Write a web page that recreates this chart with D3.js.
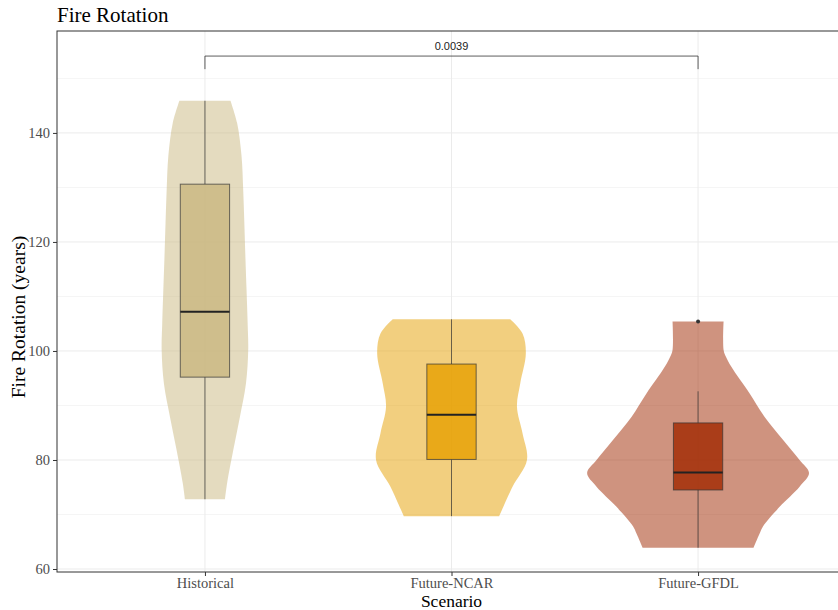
<!DOCTYPE html>
<html>
<head>
<meta charset="utf-8">
<script src="https://cdn.jsdelivr.net/npm/d3@7"></script>
<style>
  body { margin: 0; background: #fff; }
  svg { display: block; }
  text { font-family: "Liberation Serif", "Times New Roman", serif; }
</style>
</head>
<body>
<div id="chart"></div>
<script>
// scenarios on the x axis
const scenarios = ["Historical", "Future-NCAR", "Future-GFDL"];
const baseColors = ["#c9b77f", "#e69f00", "#a02800"];

// box plot stats
const lowerWhisker = [72.8, 69.7, 63.9];
const q1 = [95.2, 80.1, 74.5];
const median = [107.2, 88.3, 77.7];
const q3 = [130.6, 97.6, 86.8];
const upperWhisker = [145.9, 105.8, 92.6];
const outliers = [[], [], [105.4]];

// violin outline: [value, relative half width]
const histViolin = [[145.9,0.23],[141.8,0.29],[135.7,0.33],[129.5,0.345],[123.5,0.355],[117,0.365],[111.2,0.375],[105,0.385],[100.2,0.39],[94.1,0.37],[87.9,0.315],[81.8,0.255],[75.8,0.2],[72.8,0.18]];
const ncarViolin = [[105.8,0.53],[103.2,0.64],[99.6,0.67],[94.1,0.62],[89.8,0.59],[84.9,0.64],[80,0.68],[75.1,0.55],[69.7,0.43]];
const gfdlViolin = [[105.4,0.23],[100.2,0.23],[99,0.25],[97.1,0.3],[92.2,0.465],[87.9,0.6],[83.7,0.765],[80,0.915],[77.6,1],[75.1,0.915],[71.4,0.735],[67.8,0.585],[66.5,0.555],[63.9,0.5]];
const violins = [histViolin, ncarViolin, gfdlViolin];

const yTicks = [60, 80, 100, 120, 140];
const yMinor = [70, 90, 110, 130, 150];

// comparison bracket
const bracketFrom = "Historical", bracketTo = "Future-GFDL";
const bracketY = 154.1, bracketTipY = 151.7;
const bracketLabel = "0.0039";

const W = 838, H = 610;
const margin = { top: 31, left: 57, bottom: 38 };
const panelW = 789; // panel runs past the right edge of the page
const innerH = H - margin.top - margin.bottom;

const svg = d3.select("#chart").append("svg")
  .attr("width", W).attr("height", H);

const x = d3.scalePoint().domain(scenarios).range([0, panelW]).padding(0.6);
const step = x.step();
const y = d3.scaleLinear().domain([59.45, 158.7]).range([innerH, 0]);
const wScale = d3.scaleLinear().domain([0, 1]).range([0, 0.45 * step]);

const g = svg.append("g").attr("transform", `translate(${margin.left},${margin.top})`);

// grid
g.selectAll(".minor").data(yMinor).enter().append("line")
  .attr("x1", 0).attr("x2", panelW)
  .attr("y1", d => y(d)).attr("y2", d => y(d))
  .attr("stroke", "#f2f2f2").attr("stroke-width", 0.8);
g.selectAll(".major").data(yTicks).enter().append("line")
  .attr("x1", 0).attr("x2", panelW)
  .attr("y1", d => y(d)).attr("y2", d => y(d))
  .attr("stroke", "#ebebeb").attr("stroke-width", 1);
g.selectAll(".vgrid").data(scenarios).enter().append("line")
  .attr("x1", d => x(d)).attr("x2", d => x(d))
  .attr("y1", 0).attr("y2", innerH)
  .attr("stroke", "#ebebeb").attr("stroke-width", 1);

// violins
const area = d3.area()
  .curve(d3.curveCatmullRom.alpha(0.5))
  .y(d => y(d[0]));

scenarios.forEach((s, i) => {
  const cx = x(s);
  g.append("path")
    .datum(violins[i])
    .attr("d", area.x0(d => cx - wScale(d[1])).x1(d => cx + wScale(d[1])))
    .attr("fill", baseColors[i])
    .attr("fill-opacity", 0.5);
});

// boxes
const boxHalf = 0.1 * step;
scenarios.forEach((s, i) => {
  const cx = x(s);
  const bg = g.append("g");
  bg.append("line")
    .attr("x1", cx).attr("x2", cx)
    .attr("y1", y(upperWhisker[i])).attr("y2", y(q3[i]))
    .attr("stroke", "#333").attr("stroke-opacity", 0.7).attr("stroke-width", 1);
  bg.append("line")
    .attr("x1", cx).attr("x2", cx)
    .attr("y1", y(q1[i])).attr("y2", y(lowerWhisker[i]))
    .attr("stroke", "#333").attr("stroke-opacity", 0.7).attr("stroke-width", 1);
  bg.append("rect")
    .attr("x", cx - boxHalf).attr("width", 2 * boxHalf)
    .attr("y", y(q3[i])).attr("height", y(q1[i]) - y(q3[i]))
    .attr("fill", baseColors[i]).attr("fill-opacity", 0.8)
    .attr("stroke", "#333").attr("stroke-opacity", 0.7).attr("stroke-width", 1);
  bg.append("line")
    .attr("x1", cx - boxHalf).attr("x2", cx + boxHalf)
    .attr("y1", y(median[i])).attr("y2", y(median[i]))
    .attr("stroke", "#222").attr("stroke-width", 2);
  bg.selectAll("circle").data(outliers[i]).enter().append("circle")
    .attr("cx", cx).attr("cy", d => y(d)).attr("r", 2)
    .attr("fill", "#333");
});

// significance bracket
const bx1 = x(bracketFrom), bx2 = x(bracketTo);
g.append("path")
  .attr("d", `M${bx1},${y(bracketTipY)}V${y(bracketY)}H${bx2}V${y(bracketTipY)}`)
  .attr("fill", "none").attr("stroke", "#333").attr("stroke-width", 0.8);
g.append("text")
  .attr("x", (bx1 + bx2) / 2).attr("y", y(bracketY) - 6)
  .attr("text-anchor", "middle")
  .style("font-family", "'Liberation Sans', Arial, sans-serif")
  .style("font-size", "11px").attr("fill", "#222")
  .text(bracketLabel);

// panel border
g.append("rect")
  .attr("x", 0).attr("y", 0).attr("width", panelW).attr("height", innerH)
  .attr("fill", "none").attr("stroke", "#333").attr("stroke-width", 1);

// axes
const yAxis = g.append("g").call(d3.axisLeft(y).tickValues(yTicks).tickSize(4).tickPadding(3));
yAxis.select(".domain").remove();
yAxis.selectAll("line").attr("stroke", "#333");
yAxis.selectAll("text")
  .style("font-family", "'Liberation Serif', serif")
  .style("font-size", "14.5px").attr("fill", "#4d4d4d");

const xAxis = g.append("g").attr("transform", `translate(0,${innerH})`)
  .call(d3.axisBottom(x).tickSize(4).tickPadding(2));
xAxis.select(".domain").remove();
xAxis.selectAll("line").attr("stroke", "#333");
xAxis.selectAll("text")
  .style("font-family", "'Liberation Serif', serif")
  .style("font-size", "14.5px").attr("fill", "#4d4d4d");

// titles
svg.append("text")
  .attr("x", 57).attr("y", 22)
  .style("font-size", "21px").attr("fill", "#000")
  .text("Fire Rotation");

svg.append("text")
  .attr("transform", `translate(25,${317}) rotate(-90)`)
  .attr("text-anchor", "middle")
  .style("font-size", "19.5px").attr("fill", "#000")
  .text("Fire Rotation (years)");

svg.append("text")
  .attr("x", margin.left + x("Future-NCAR")).attr("y", 607)
  .attr("text-anchor", "middle")
  .style("font-size", "17.5px").attr("fill", "#000")
  .text("Scenario");
</script>
</body>
</html>
